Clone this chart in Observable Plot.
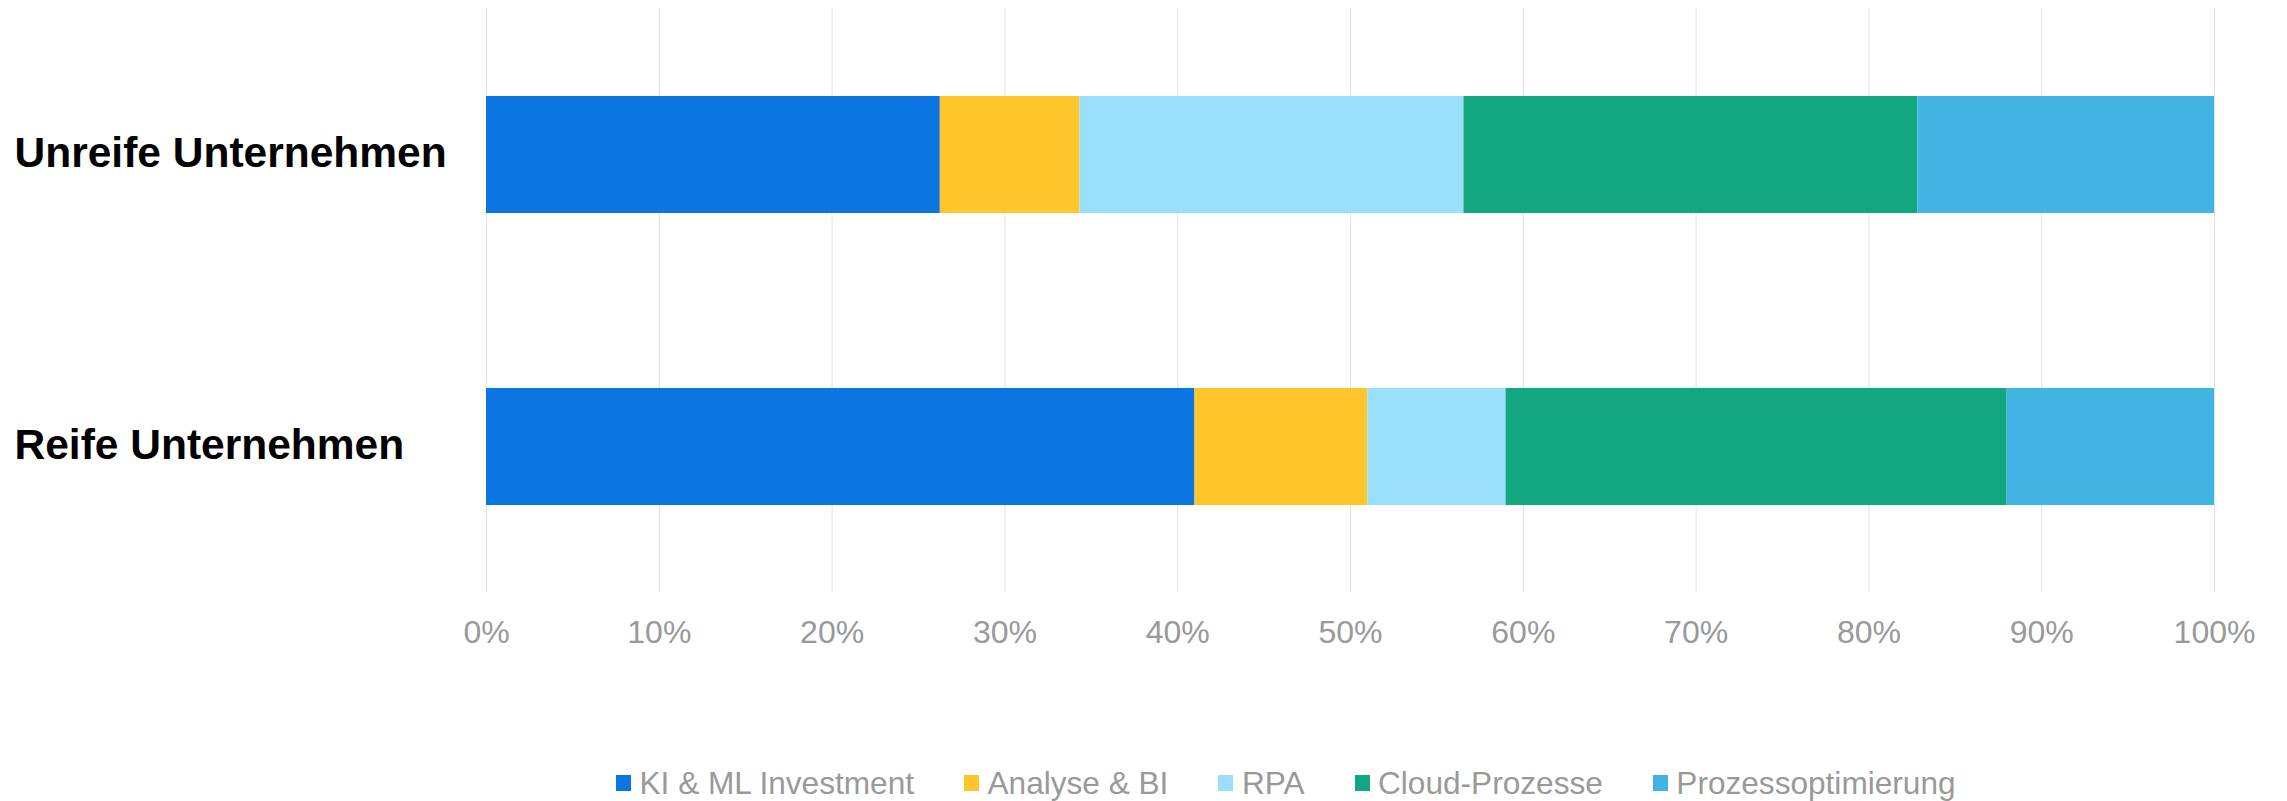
<!DOCTYPE html>
<html>
<head>
<meta charset="utf-8">
<script src="https://cdn.jsdelivr.net/npm/d3@7"></script>
<script src="https://cdn.jsdelivr.net/npm/@observablehq/plot@0.6"></script>
<style>
  html, body { margin: 0; padding: 0; background: #fff; }
  #wrap { position: relative; width: 2287px; height: 801px; font-family: "Liberation Sans", Arial, sans-serif; }
  #legend { position: absolute; left: 616px; top: 765px; display: flex; align-items: center; font-size: 31.6px; color: #999; line-height: 36px; white-space: nowrap; }
  .item { display: flex; align-items: center; margin-right: 50px; }
  .sw { width: 15px; height: 16px; margin-right: 8.5px; }
</style>
</head>
<body>
<div id="wrap"><div id="chart"></div><div id="legend"></div></div>
<script>
const categories = ["Unreife Unternehmen", "Reife Unternehmen"];
const series = ["KI & ML Investment", "Analyse & BI", "RPA", "Cloud-Prozesse", "Prozessoptimierung"];
const unreifeValues = [26, 8, 22, 26, 17];
const reifeValues = [41, 10, 8, 29, 12];
const xTickLabels = [0, 10, 20, 30, 40, 50, 60, 70, 80, 90, 100];
const colors = ["#0b76e1", "#fec62a", "#9ae0fd", "#12a77e", "#41b4e3"];

const xTicks = xTickLabels.map(d => d / 100);
const valuesByCategory = [unreifeValues, reifeValues];
const data = categories.flatMap((c, i) =>
  series.map((s, j) => ({category: c, series: s, value: valuesByCategory[i][j]}))
);

const chart = Plot.plot({
  width: 2287,
  height: 680,
  marginLeft: 486,
  marginRight: 73,
  marginTop: 8,
  marginBottom: 88,
  style: {fontFamily: "'Liberation Sans', Arial, sans-serif", background: "#fff"},
  x: {domain: [0, 1], label: null},
  y: {domain: categories, paddingInner: 0.6, paddingOuter: 0.3, label: null},
  color: {domain: series, range: colors},
  marks: [
    Plot.gridX(xTicks, {stroke: "#e2e2e2", strokeOpacity: 1, strokeWidth: 1}),
    Plot.barX(data, Plot.stackX({x: "value", y: "category", fill: "series", offset: "normalize", order: series})),
    Plot.axisX(xTicks, {tickSize: 0, tickPadding: 28, fontSize: 32, color: "#999", tickFormat: d => Math.round(d * 100) + "%", label: null}),
    Plot.axisY({tickSize: 0, tickPadding: 472, textAnchor: "start", dy: -2, fontSize: 42.5, fontWeight: "bold", color: "#000", label: null})
  ]
});
document.getElementById("chart").appendChild(chart);

const legend = document.getElementById("legend");
series.forEach((s, i) => {
  const item = document.createElement("div");
  item.className = "item";
  const sw = document.createElement("div");
  sw.className = "sw";
  sw.style.background = colors[i];
  const t = document.createElement("span");
  t.textContent = s;
  item.appendChild(sw);
  item.appendChild(t);
  legend.appendChild(item);
});
</script>
</body>
</html>
